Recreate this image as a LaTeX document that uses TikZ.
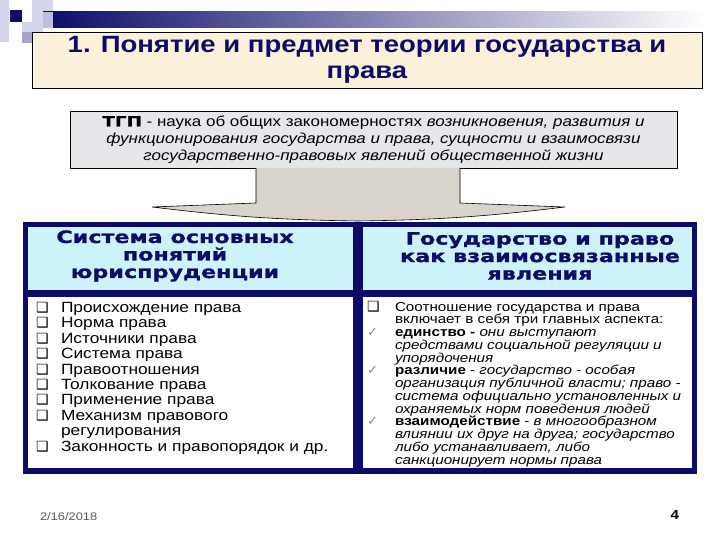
\documentclass[tikz,border=0pt]{standalone}
\usepackage{fontspec}
\setmainfont{Liberation Sans}[FakeStretch=1.17]
\newfontfamily\dv{DejaVu Sans}
\newfontfamily\wideb{DejaVu Sans}[FakeStretch=1.31, FakeBold=1.2]
\definecolor{navy}{HTML}{0C0C68}
\definecolor{titlefill}{HTML}{FBF1DA}
\definecolor{tgpfill}{HTML}{E6E7EB}
\definecolor{arrowfill}{HTML}{D8D3CB}
\definecolor{headfill}{HTML}{CCF2FA}
\definecolor{lav}{HTML}{D4D4EC}
\definecolor{lavd}{HTML}{A4A4CE}
\definecolor{chk}{HTML}{8A8A8A}
\tikzset{
  box/.style={draw=black, line width=0.8pt, inner sep=0pt},
  txt/.style={inner sep=0pt, outer sep=0pt},
}
\newcommand{\qb}{{\dv\fontsize{14}{11}\selectfont ❑}}
\newcommand{\ck}{{\dv\fontsize{13}{11}\selectfont\color{chk}✓}}
\begin{document}
\begin{tikzpicture}[x=1pt,y=-1pt]
\useasboundingbox (0,0) rectangle (720,540);
\fill[white] (0,0) rectangle (720,540);
% decoration
\fill[lav] (0,0) rectangle (9,42);
\fill[lav] (32,0) rectangle (53,22);
\fill[lav] (22,22) rectangle (43,32);
\fill[lavd] (22,32) rectangle (43,43);
\shade[left color=navy, right color=white] (43,12) rectangle (705,28);
\fill[lavd!70] (43,12) rectangle (53,28);
\fill[navy] (10,10) rectangle (22,22);
% title
\node[box, fill=titlefill, minimum width=670pt, minimum height=56pt] (title) at (367,60) {};
\node[txt, align=center, text=navy, font=\bfseries\fontsize{23.5}{26.5}\selectfont] (ttext) at (title.center) {1. Понятие и предмет теории государства и\\права};
% TGP box
\node[box, fill=tgpfill, minimum width=607pt, minimum height=57pt] (tgp) at (373.5,139.5) {};
\node[txt, align=center, font=\fontsize{14.5}{17}\selectfont] (tgptext) at (tgp.center) {{\wideb\bfseries\fontsize{14}{17}\selectfont ТГП} - наука об общих закономерностях \textit{возникновения, развития и}\\\textit{функционирования государства и права, сущности и взаимосвязи}\\\textit{государственно-правовых явлений общественной жизни}};
% arrow
\coordinate (a1) at (256,168);
\coordinate (a2) at (256,203);
\coordinate (a3) at (152,207);
\coordinate (tip) at (358,221);
\coordinate (a5) at (565,207);
\coordinate (a6) at (460,203);
\coordinate (a7) at (460,168);
\fill[arrowfill] (a1) -- (a2) -- (a3) to[bend right=3] (tip) to[bend right=3] (a5) -- (a6) -- (a7) -- cycle;
\draw[line width=0.6pt] (a1) -- (a2) -- (a3) to[bend right=3] (tip) to[bend right=3] (a5) -- (a6) -- (a7);
% panels
\fill[navy] (23,222) rectangle (697,474);
\node[txt, fill=headfill, minimum width=325pt, minimum height=63pt] (lh) at (190.5,258.5) {};
\node[txt, fill=headfill, minimum width=329pt, minimum height=63pt] (rh) at (527.5,258.5) {};
\node[txt, fill=white, minimum width=325pt, minimum height=171pt] (lb) at (190.5,382.5) {};
\node[txt, fill=white, minimum width=329pt, minimum height=171pt] (rb) at (527.5,382.5) {};
\node[txt, align=center, text=navy, font=\wideb\bfseries\fontsize{17}{17.5}\selectfont] (lht) at (175,256) {Система основных\\понятий\\юриспруденции};
\node[txt, align=center, text=navy, font=\wideb\bfseries\fontsize{17}{17.5}\selectfont] (rht) at (540,256) {Государство и право\\как взаимосвязанные\\явления};
% left list
\node[txt, anchor=north west, align=left, font=\fontsize{14.8}{15.45}\selectfont] (ll) at (36,302) {%
\makebox[25pt][l]{\qb}Происхождение права\\
\makebox[25pt][l]{\qb}Норма права\\
\makebox[25pt][l]{\qb}Источники права\\
\makebox[25pt][l]{\qb}Система права\\
\makebox[25pt][l]{\qb}Правоотношения\\
\makebox[25pt][l]{\qb}Толкование права\\
\makebox[25pt][l]{\qb}Применение права\\
\makebox[25pt][l]{\qb}Механизм правового\\
\makebox[25pt][l]{}регулирования\\
\makebox[25pt][l]{\qb}Законность и правопорядок и др.};
% right list
\node[txt, anchor=north west, align=left, font=\fontsize{13}{12.75}\selectfont] (rl) at (367,301) {%
\makebox[28pt][l]{\qb}Соотношение государства и права\\
\makebox[28pt][l]{}включает в себя три главных аспекта:\\
\makebox[28pt][l]{\ck}\textbf{единство -} \textit{они выступают}\\
\makebox[28pt][l]{}\textit{средствами социальной регуляции и}\\
\makebox[28pt][l]{}\textit{упорядочения}\\
\makebox[28pt][l]{\ck}\textbf{различие} - \textit{государство - особая}\\
\makebox[28pt][l]{}\textit{организация публичной власти; право -}\\
\makebox[28pt][l]{}\textit{система официально установленных и}\\
\makebox[28pt][l]{}\textit{охраняемых норм поведения людей}\\
\makebox[28pt][l]{\ck}\textbf{взаимодействие} - \textit{в многообразном}\\
\makebox[28pt][l]{}\textit{влиянии их друг на друга; государство}\\
\makebox[28pt][l]{}\textit{либо устанавливает, либо}\\
\makebox[28pt][l]{}\textit{санкционирует нормы права}};
% footer
\node[txt, anchor=west, text=black!65, font=\fontsize{11}{11}\selectfont] (date) at (40,517) {2/16/2018};
\node[txt, anchor=east, font=\bfseries\fontsize{13}{13}\selectfont] (pg) at (679,515) {4};
\end{tikzpicture}
\end{document}
